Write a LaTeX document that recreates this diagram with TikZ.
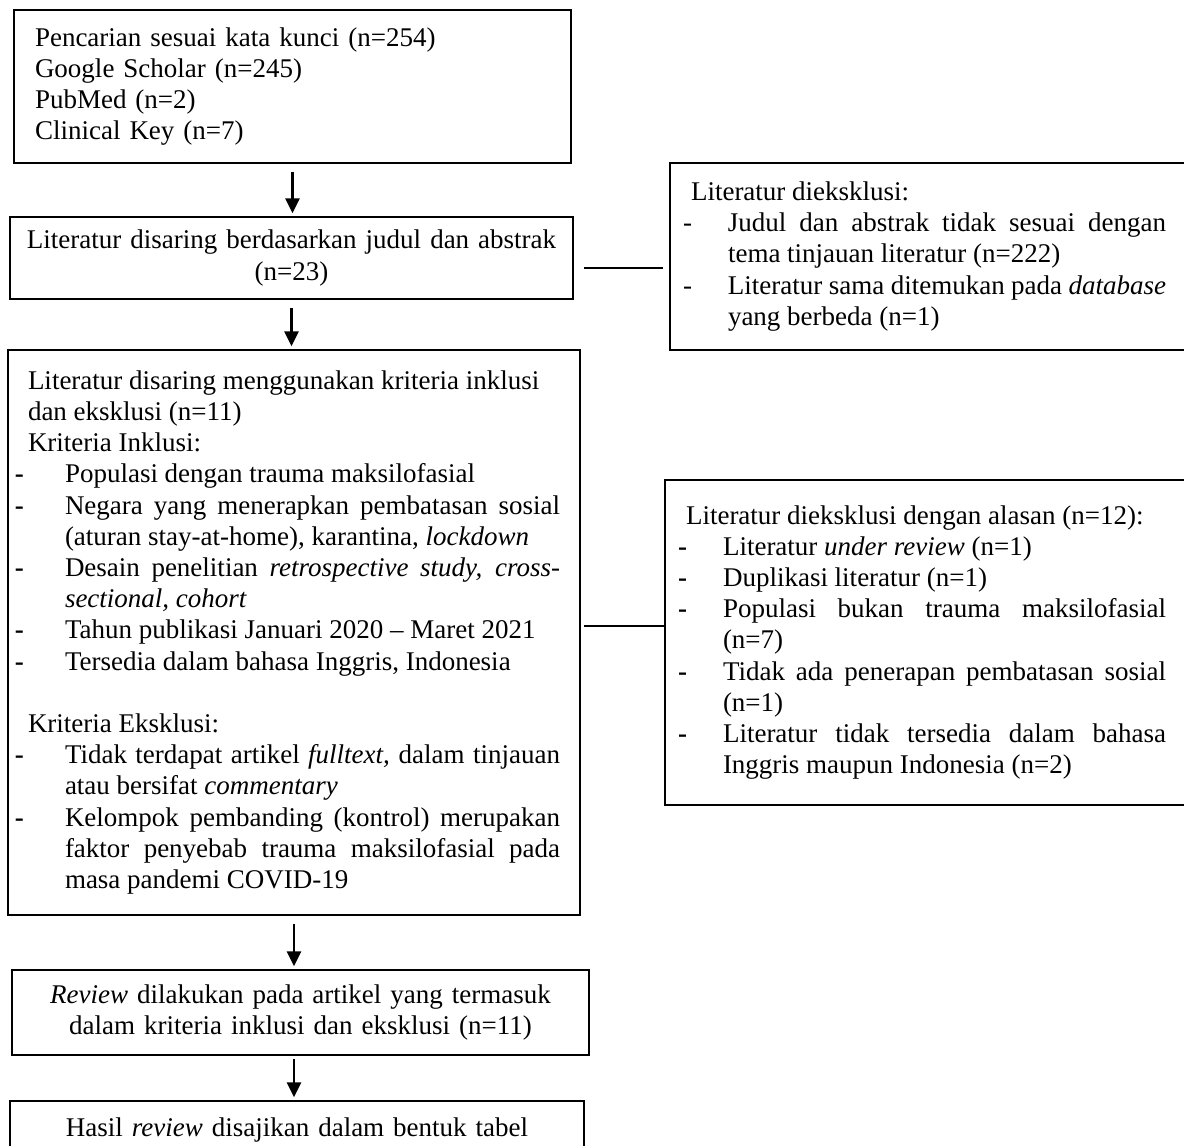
\documentclass[tikz,border=0pt]{standalone}
\usepackage{fontspec}
\setmainfont{Liberation Serif}
\usetikzlibrary{arrows.meta}
\newcommand{\judul}[2]{{\leftskip=#1\rightskip=0pt plus 1fil\noindent #2\par}}
\newcommand{\butir}[3][\textbf{-}]{\par\noindent\hangindent=#2\hangafter=1\hbox to #2{#1\hfil}#3}
\tikzset{
  kotak/.style={draw, line width=0.75pt, inner ysep=0pt, font=\fontsize{13.5pt}{15.6pt}\selectfont},
  panah/.style={line width=1.3pt, -{Triangle[length=7.5pt,width=7pt]}, shorten <=4pt, shorten >=1.5pt},
  garis/.style={line width=0.75pt}
}
\tolerance=9999 \hbadness=10000 \hfuzz=2pt

\begin{document}
\begin{tikzpicture}[x=0.5pt,y=-0.5pt]
\useasboundingbox (0,0) rectangle (1184,1146);
\clip (0,0) rectangle (1184,1146);
\node[kotak, minimum width=278.5pt, minimum height=76.5pt, text width=257.5pt, inner xsep=10.5pt, align=left] (cari) at (292.5,86.5)
  {Pencarian sesuai kata kunci (n=254)\\ Google Scholar (n=245)\\ PubMed (n=2)\\ Clinical Key (n=7)}; % pencarian
\node[kotak, minimum width=281.5pt, minimum height=41pt, text width=271.5pt, inner xsep=5pt, align=center] (saring) at (291.5,258)
  {Literatur disaring berdasarkan judul dan abstrak\\ (n=23)}; % skrining judul
\node[kotak, minimum width=286pt, minimum height=282.5pt, text width=279pt, inner xsep=3.5pt, align=justify] (kriteria) at (294,632.5)
  {\rightskip=6.5pt\parfillskip=0pt plus 1fil
   \judul{6.5pt}{Literatur disaring menggunakan kriteria inklusi\newline dan eksklusi (n=11)\newline Kriteria Inklusi:}
   \butir{25pt}{Populasi dengan trauma maksilofasial}
   \butir{25pt}{Negara yang menerapkan pembatasan sosial\linebreak (aturan stay-at-home), karantina, \textit{lockdown}}
   \butir{25pt}{Desain penelitian \textit{retrospective study, cross-}\linebreak \textit{sectional, cohort}}
   \butir{25pt}{Tahun publikasi Januari 2020 – Maret 2021}
   \butir{25pt}{Tersedia dalam bahasa Inggris, Indonesia}\par
   \vspace{15.6pt}
   \judul{6.5pt}{Kriteria Eksklusi:}
   \butir{25pt}{Tidak terdapat artikel \textit{fulltext,} dalam tinjauan\linebreak atau bersifat \textit{commentary}}
   \butir{25pt}{Kelompok pembanding (kontrol) merupakan\linebreak faktor penyebab trauma maksilofasial pada\linebreak masa pandemi COVID-19}\par
   \vspace*{6.5pt}}; % kriteria
\node[kotak, minimum width=288.5pt, minimum height=42.5pt, text width=278.5pt, inner xsep=5pt, align=center] (review) at (300.5,1012.5)
  {\textit{Review} dilakukan pada artikel yang termasuk\\ dalam kriteria inklusi dan eksklusi (n=11)}; % review
\node[kotak, minimum width=287pt, minimum height=29pt, text width=277pt, inner xsep=5pt, align=center] (hasil) at (297,1130)
  {Hasil \textit{review} disajikan dalam bentuk tabel}; % hasil
\node[kotak, minimum width=260pt, minimum height=93.5pt, text width=247pt, inner xsep=6.5pt, align=justify] (eks1) at (930,256.5)
  {\rightskip=5.5pt\parfillskip=0pt plus 1fil
   \judul{4pt}{Literatur dieksklusi:}
   \butir[-]{22.5pt}{Judul dan abstrak tidak sesuai dengan\linebreak tema tinjauan literatur (n=222)}
   \butir[-]{22.5pt}{Literatur sama ditemukan pada \textit{database}\linebreak yang berbeda (n=1)}\par}; % eksklusi judul
\node[kotak, minimum width=262.5pt, minimum height=162.5pt, text width=249.5pt, inner xsep=6.5pt, align=justify] (eks2) at (927.5,642.5)
  {\rightskip=5.5pt\parfillskip=0pt plus 1fil
   \judul{4pt}{Literatur dieksklusi dengan alasan (n=12):}
   \butir{22.5pt}{Literatur \textit{under review} (n=1)}
   \butir{22.5pt}{Duplikasi literatur (n=1)}
   \butir{22.5pt}{Populasi bukan trauma maksilofasial\linebreak (n=7)}
   \butir{22.5pt}{Tidak ada penerapan pembatasan sosial\linebreak (n=1)}
   \butir{22.5pt}{Literatur tidak tersedia dalam bahasa\linebreak Inggris maupun Indonesia (n=2)}\par}; % eksklusi alasan
\draw[panah] (cari.south) -- (cari.south |- saring.north); % arrow
\draw[panah] (saring.south) -- (saring.south |- kriteria.north); % arrow
\draw[panah] (kriteria.south) -- (kriteria.south |- review.north); % arrow
\draw[panah, shorten <=1.5pt] (review.south -| kriteria.south) -- (kriteria.south |- hasil.north); % arrow
\draw[garis, shorten <=5pt, shorten >=3pt] ([yshift=-5pt]saring.east) -- ([yshift=-5pt]saring.east -| eks1.west); % side line
\draw[garis, shorten <=1.5pt] ([yshift=3.25pt]kriteria.east) -- ([yshift=3.25pt]kriteria.east -| eks2.west); % side line
\end{tikzpicture}
\end{document}
